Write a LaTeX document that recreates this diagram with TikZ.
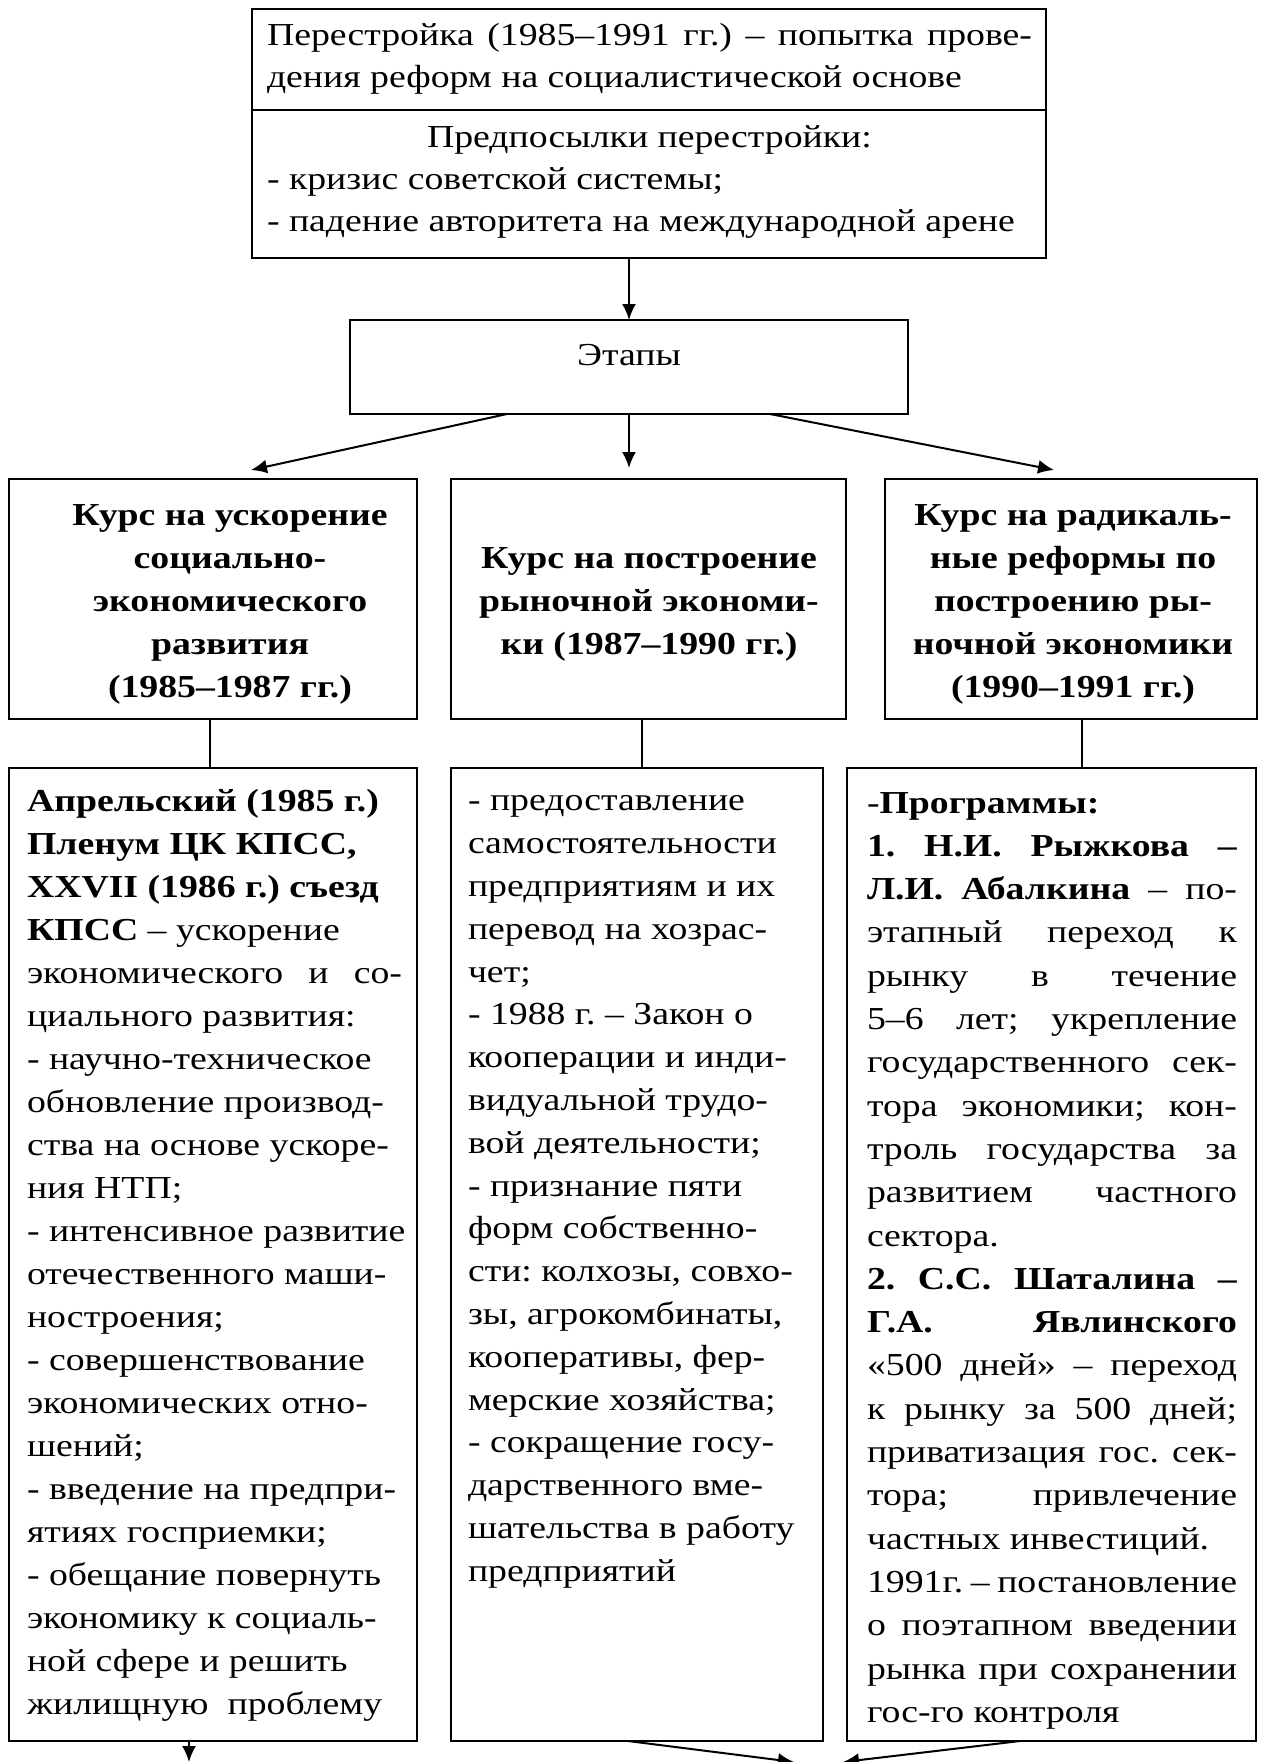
\documentclass[tikz,border=0pt]{standalone}
\usepackage{fontspec}
\setmainfont{Liberation Serif}[FakeStretch=1.18]
\usetikzlibrary{arrows.meta}
\newcommand{\jl}[2]{\makebox[#1][s]{#2}}
\newcommand{\ftop}{\fontsize{16}{21}\selectfont}
\newcommand{\fmid}{\fontsize{16}{21.5}\selectfont\bfseries}
\newcommand{\fa}{\fontsize{16}{21.5}\selectfont}
\newcommand{\fb}{\fontsize{16}{21.4}\selectfont}
\newcommand{\fc}{\fontsize{16}{21.65}\selectfont}
\begin{document}
\frenchspacing
\begin{tikzpicture}[x=0.5pt,y=-0.5pt,
  box/.style={draw, line width=0.8pt, inner sep=0pt, outer sep=0pt, anchor=north west},
  topbox/.style={box, line width=1pt},
  txt/.style={inner sep=0pt, outer sep=0pt, anchor=north west, align=left},
  ctxt/.style={inner sep=0pt, outer sep=0pt, anchor=north, align=center},
  arr/.style={-{Latex[length=8pt,width=7pt]}, line width=1pt},
  con/.style={line width=0.6pt}]
\useasboundingbox (0,0) rectangle (1265,1762);
% boxes
\node[topbox, minimum width=397pt, minimum height=124.5pt] (top) at (252,9) {};
\draw[line width=1pt] ([yshift=-50.5pt]top.north west) -- ([yshift=-50.5pt]top.north east);
\node[box, minimum width=279pt, minimum height=47pt] (etapy) at (350,320) {};
\node[box, minimum width=204pt, minimum height=120pt] (r2a) at (9,479) {};
\node[box, minimum width=197.5pt, minimum height=120pt] (r2b) at (451,479) {};
\node[box, minimum width=186pt, minimum height=120pt] (r2c) at (885,479) {};
\node[box, minimum width=204pt, minimum height=486.5pt] (r3a) at (9,768) {};
\node[box, minimum width=186pt, minimum height=486.5pt] (r3b) at (451,768) {};
\node[box, minimum width=204.5pt, minimum height=486.5pt] (r3c) at (847,768) {};
% texts
\node[txt, font=\ftop] (topA) at (267,15.6) {\strut\jl{382.5pt}{Перестройка (1985–1991 гг.) – попытка прове-}\\дения реформ на социалистической основе};
\node[txt, font=\ftop] (topB) at (267,117.6) {\strut\makebox[382.5pt]{Предпосылки перестройки:}\\- кризис советской системы;\\- падение авторитета на международной арене};
\node[inner sep=0pt, anchor=base, font=\ftop] (etext) at (629,365) {Этапы};
\node[ctxt, font=\fmid] (t2a) at (230,494.9) {\strut Курс на ускорение\\социально-\\экономического\\развития\\(1985–1987 гг.)};
\node[ctxt, font=\fmid] (t2b) at (649,537.9) {\strut Курс на построение\\рыночной экономи-\\ки (1987–1990 гг.)};
\node[ctxt, font=\fmid] (t2c) at (1073,494.9) {\strut Курс на радикаль-\\ные реформы по\\построению ры-\\ночной экономики\\(1990–1991 гг.)};
\node[txt, font=\fa] (t3a) at (27,780.9) {\strut\textbf{Апрельский (1985 г.)}\\
\textbf{Пленум ЦК КПСС,}\\
\textbf{XXVII (1986 г.) съезд}\\
\textbf{КПСС} – ускорение\\
\jl{187.5pt}{экономического и со-}\\
циального развития:\\
- научно-техническое\\
обновление производ-\\
ства на основе ускоре-\\
ния НТП;\\
- интенсивное развитие\\
отечественного маши-\\
ностроения;\\
- совершенствование\\
экономических отно-\\
шений;\\
- введение на предпри-\\
ятиях госприемки;\\
- обещание повернуть\\
экономику к социаль-\\
ной сфере и решить\\
жилищную\ \ проблему};
\node[txt, font=\fb] (t3b) at (468,781) {\strut - предоставление\\
самостоятельности\\
предприятиям и их\\
перевод на хозрас-\\
чет;\\
- 1988 г. – Закон о\\
кооперации и инди-\\
видуальной трудо-\\
вой деятельности;\\
- признание пяти\\
форм собственно-\\
сти: колхозы, совхо-\\
зы, агрокомбинаты,\\
кооперативы, фер-\\
мерские хозяйства;\\
- сокращение госу-\\
дарственного вме-\\
шательства в работу\\
предприятий};
\node[txt, font=\fc] (t3c) at (867,782.7) {\strut -\textbf{Программы:}\\
\jl{185pt}{\textbf{1. Н.И. Рыжкова –}}\\
\jl{185pt}{\textbf{Л.И. Абалкина} – по-}\\
\jl{185pt}{этапный переход к}\\
\jl{185pt}{рынку в течение}\\
\jl{185pt}{5–6 лет; укрепление}\\
\jl{185pt}{государственного сек-}\\
\jl{185pt}{тора экономики; кон-}\\
\jl{185pt}{троль государства за}\\
\jl{185pt}{развитием частного}\\
сектора.\\
\jl{185pt}{\textbf{2. С.С. Шаталина –}}\\
\jl{185pt}{\textbf{Г.А. Явлинского}}\\
\jl{185pt}{«500 дней» – переход}\\
\jl{185pt}{к рынку за 500 дней;}\\
\jl{185pt}{приватизация гос. сек-}\\
\jl{185pt}{тора; привлечение}\\
частных инвестиций.\\
\jl{185pt}{1991г. – постановление}\\
\jl{185pt}{о поэтапном введении}\\
\jl{185pt}{рынка при сохранении}\\
гос-го контроля};
% connectors
\draw[arr] (etapy.north |- top.south) -- (etapy.north);
\draw[arr] ([xshift=-61pt]etapy.south) -- ([xshift=19pt,yshift=4.5pt]r2a.north);
\draw[arr] (etapy.south) -- ([yshift=5.5pt]etapy.south |- r2b.north);
\draw[arr] ([xshift=70.5pt]etapy.south) -- ([xshift=-8.5pt,yshift=4.5pt]r2c.north);
\draw[con] ([xshift=-1.5pt]r2a.south) -- ([xshift=-1.5pt]r2a.south |- r3a.north);
\draw[con] ([xshift=-3.25pt]r2b.south) -- ([xshift=-3.25pt]r2b.south |- r3b.north);
\draw[con] ([xshift=5.5pt]r2c.south) -- ([xshift=5.5pt]r2c.south |- r3c.north);
\coordinate (enda) at (189,1762);
\coordinate (endb) at (794,1762);
\coordinate (endc) at (843,1762);
\draw[arr] ([xshift=-12pt]r3a.south) -- (enda);
\draw[arr] ([xshift=-4.5pt]r3b.south) -- (endb);
\draw[arr] ([xshift=-15.75pt]r3c.south) -- (endc);
\end{tikzpicture}
\end{document}
